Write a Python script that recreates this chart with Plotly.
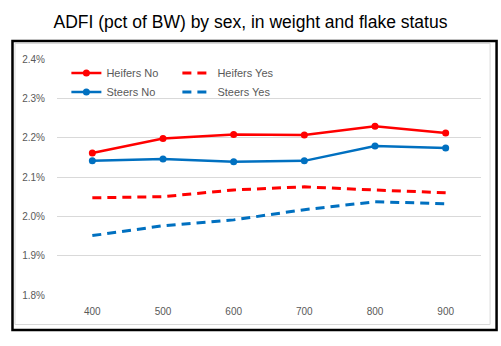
import plotly.graph_objects as go

weights = ["400", "500", "600", "700", "800", "900"]
heifers_no = [0.02161, 0.02198, 0.02208, 0.02207, 0.02229, 0.02212]
steers_no = [0.02141, 0.02146, 0.02139, 0.02141, 0.02179, 0.02174]
heifers_yes = [0.02047, 0.02050, 0.02067, 0.02075, 0.02067, 0.02060]
steers_yes = [0.01951, 0.01976, 0.01991, 0.02017, 0.02037, 0.02032]
y_ticks = [0.018, 0.019, 0.020, 0.021, 0.022, 0.023, 0.024]

RED = "#FF0000"
BLUE = "#0070C0"
W, H = 501, 346
L, R, T, B = 56.6, 19.6, 59, 51
pw, ph = W - L - R, H - T - B

def px(x):
    return (x - L) / pw

def py(y):
    return 1 - (y - T) / ph

fig = go.Figure()
fig.add_trace(go.Scatter(x=weights, y=heifers_no, name="Heifers No", mode="lines+markers",
                         line=dict(color=RED, width=2.5), marker=dict(size=7, color=RED), legend="legend"))
fig.add_trace(go.Scatter(x=weights, y=heifers_yes, name="Heifers Yes", mode="lines",
                         line=dict(color=RED, width=3, dash="9px,6px"), legend="legend"))
fig.add_trace(go.Scatter(x=weights, y=steers_no, name="Steers No", mode="lines+markers",
                         line=dict(color=BLUE, width=2.5), marker=dict(size=7, color=BLUE), legend="legend2"))
fig.add_trace(go.Scatter(x=weights, y=steers_yes, name="Steers Yes", mode="lines",
                         line=dict(color=BLUE, width=3, dash="9px,6px"), legend="legend2"))

FONT = "Liberation Sans, Arial, sans-serif"
legfont = dict(family=FONT, size=11, color="#595959")
common = dict(orientation="h", xanchor="left", yanchor="middle", font=legfont,
              bgcolor="rgba(0,0,0,0)", entrywidth=66, tracegroupgap=0)

fig.update_layout(
    width=W, height=H,
    margin=dict(l=L, r=R, t=T, b=B),
    paper_bgcolor="white", plot_bgcolor="white",
    title=dict(text="ADFI (pct of BW) by sex, in weight and flake status",
               x=0.5, xanchor="center", y=1 - 22 / H, yanchor="middle",
               font=dict(family=FONT, size=17.5, color="black")),
    xaxis=dict(type="category", range=[-0.5, 5.5], showgrid=False, zeroline=False,
               showline=False, ticks="", ticklabelstandoff=9,
               tickfont=dict(family=FONT, size=10, color="#595959")),
    yaxis=dict(range=[0.018, 0.024], tickvals=y_ticks, tickformat=".1%", showgrid=True,
               gridcolor="#D9D9D9", gridwidth=1, zeroline=False, showline=False, ticks="",
               ticklabelstandoff=11,
               tickfont=dict(family=FONT, size=10, color="#595959")),
    legend=dict(x=px(66), y=py(73), **common),
    legend2=dict(x=px(66), y=py(92), **common),
    showlegend=True,
    shapes=[
        dict(type="rect", xref="paper", yref="paper", x0=px(14.5), x1=px(490.5), y0=py(324.5), y1=py(43.5),
             line=dict(color="#D9D9D9", width=1)),
        dict(type="rect", xref="paper", yref="paper", x0=px(12), x1=px(497), y0=py(330), y1=py(41),
             line=dict(color="black", width=2.5)),
    ],
)

fig.write_html("out.html")
